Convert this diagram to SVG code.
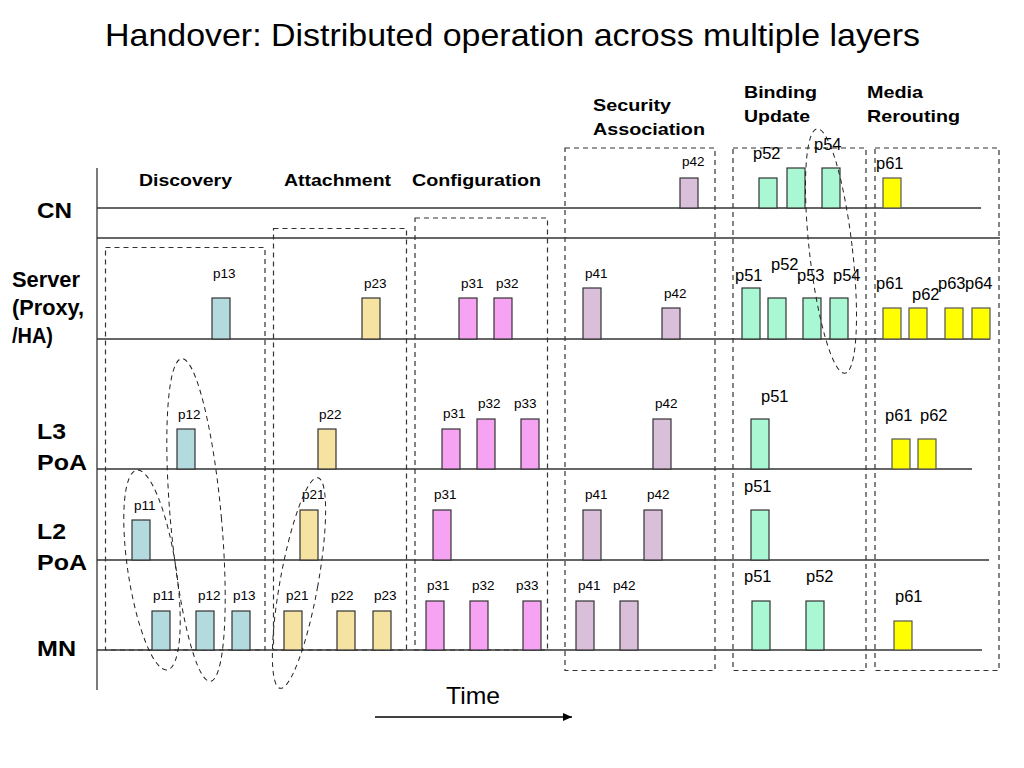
<svg xmlns="http://www.w3.org/2000/svg" width="1024" height="768" viewBox="0 0 1024 768">
<style>
text{font-family:"Liberation Sans",Arial,Helvetica,sans-serif;fill:#000}
.s{font-size:13.5px}
.l{font-size:16.5px}
.h{font-size:17px;font-weight:bold}
.lab{font-size:22px;font-weight:bold}
.row{stroke:#333;stroke-width:1.3;fill:none}
.box{fill:none;stroke:#333;stroke-width:1.2;stroke-dasharray:5 4}
.ell{fill:none;stroke:#222;stroke-width:1;stroke-dasharray:5 4}
.bar{stroke:#333;stroke-width:1.2}
.disc{fill:#B3DBDF}
.att{fill:#F6E3A2}
.conf{fill:#F5A3F2}
.sec{fill:#D9BFD9}
.bind{fill:#AAF7D3}
.media{fill:#FFFF00;stroke:#555}
</style>
<defs>
<marker id="arrow" markerUnits="userSpaceOnUse" markerWidth="10" markerHeight="10" refX="9" refY="5" orient="auto">
<path d="M0,1 L9,5 L0,9 z" fill="#000"/>
</marker>
</defs>
<rect width="1024" height="768" fill="#fff"/>
<text x="105" y="46" font-size="32" textLength="815" lengthAdjust="spacingAndGlyphs">Handover: Distributed operation across multiple layers</text>

<g id="axes">
<line class="row" x1="97" y1="168" x2="97" y2="690"/>
<line class="row" x1="97" y1="208" x2="981" y2="208"/>
<line class="row" x1="97" y1="238" x2="1000" y2="238"/>
<line class="row" x1="97" y1="339" x2="990" y2="339"/>
<line class="row" x1="97" y1="469" x2="972" y2="469"/>
<line class="row" x1="97" y1="560" x2="989" y2="560"/>
<line class="row" x1="97" y1="650" x2="982" y2="650"/>
</g>

<g id="layer-labels">
<text class="lab" x="37" y="218" textLength="35" lengthAdjust="spacingAndGlyphs">CN</text>
<text class="lab" x="12" y="287" textLength="68" lengthAdjust="spacingAndGlyphs">Server</text>
<text class="lab" x="12" y="315" textLength="72" lengthAdjust="spacingAndGlyphs">(Proxy,</text>
<text class="lab" x="12" y="343" textLength="41" lengthAdjust="spacingAndGlyphs">/HA)</text>
<text class="lab" x="37" y="439" textLength="29" lengthAdjust="spacingAndGlyphs">L3</text>
<text class="lab" x="37" y="470" textLength="50" lengthAdjust="spacingAndGlyphs">PoA</text>
<text class="lab" x="37" y="539" textLength="29" lengthAdjust="spacingAndGlyphs">L2</text>
<text class="lab" x="37" y="570" textLength="50" lengthAdjust="spacingAndGlyphs">PoA</text>
<text class="lab" x="37" y="656" textLength="39" lengthAdjust="spacingAndGlyphs">MN</text>
</g>

<g id="discovery">
<rect class="box" x="105.5" y="247.5" width="159.5" height="402.5"/>
<text class="h" x="139" y="186" textLength="93" lengthAdjust="spacingAndGlyphs">Discovery</text>
<rect class="bar disc" x="212" y="298" width="18" height="41"/><text class="s" x="213" y="278">p13</text>
<rect class="bar disc" x="177" y="429" width="18" height="40"/><text class="s" x="178" y="419">p12</text>
<rect class="bar disc" x="132" y="520" width="18" height="40"/><text class="s" x="134" y="510">p11</text>
<rect class="bar disc" x="152" y="611" width="18" height="39"/><text class="s" x="153" y="600">p11</text>
<rect class="bar disc" x="196" y="611" width="18" height="39"/><text class="s" x="198" y="600">p12</text>
<rect class="bar disc" x="232" y="611" width="18" height="39"/><text class="s" x="233" y="600">p13</text>
</g>

<g id="attachment">
<rect class="box" x="273.5" y="228.5" width="133" height="421.5"/>
<text class="h" x="284" y="186" textLength="107" lengthAdjust="spacingAndGlyphs">Attachment</text>
<rect class="bar att" x="362" y="298" width="18" height="41"/><text class="s" x="364" y="288">p23</text>
<rect class="bar att" x="318" y="429" width="18" height="40"/><text class="s" x="319" y="419">p22</text>
<rect class="bar att" x="300" y="510" width="18" height="50"/><text class="s" x="302" y="499">p21</text>
<rect class="bar att" x="284" y="611" width="18" height="39"/><text class="s" x="286" y="600">p21</text>
<rect class="bar att" x="337" y="611" width="18" height="39"/><text class="s" x="331" y="600">p22</text>
<rect class="bar att" x="373" y="611" width="18" height="39"/><text class="s" x="374" y="600">p23</text>
</g>

<g id="configuration">
<rect class="box" x="415" y="218" width="132.5" height="432"/>
<text class="h" x="412" y="186" textLength="129" lengthAdjust="spacingAndGlyphs">Configuration</text>
<rect class="bar conf" x="459" y="298" width="18" height="41"/><text class="s" x="461" y="288">p31</text>
<rect class="bar conf" x="494" y="298" width="18" height="41"/><text class="s" x="496" y="288">p32</text>
<rect class="bar conf" x="442" y="429" width="18" height="40"/><text class="s" x="443" y="418">p31</text>
<rect class="bar conf" x="477" y="419" width="18" height="50"/><text class="s" x="478" y="408">p32</text>
<rect class="bar conf" x="521" y="419" width="18" height="50"/><text class="s" x="514" y="408">p33</text>
<rect class="bar conf" x="433" y="510" width="18" height="50"/><text class="s" x="434" y="499">p31</text>
<rect class="bar conf" x="426" y="601" width="18" height="49"/><text class="s" x="427" y="590">p31</text>
<rect class="bar conf" x="470" y="601" width="18" height="49"/><text class="s" x="472" y="590">p32</text>
<rect class="bar conf" x="523" y="601" width="18" height="49"/><text class="s" x="516" y="590">p33</text>
</g>

<g id="security-association">
<rect class="box" x="565" y="148" width="150" height="522.5"/>
<text class="h" x="593" y="111" textLength="78" lengthAdjust="spacingAndGlyphs">Security</text>
<text class="h" x="593" y="135" textLength="112" lengthAdjust="spacingAndGlyphs">Association</text>
<rect class="bar sec" x="680" y="178" width="18" height="30"/><text class="s" x="682" y="166">p42</text>
<rect class="bar sec" x="583" y="288" width="18" height="51"/><text class="s" x="585" y="278">p41</text>
<rect class="bar sec" x="662" y="308" width="18" height="31"/><text class="s" x="664" y="298">p42</text>
<rect class="bar sec" x="653" y="419" width="18" height="50"/><text class="s" x="655" y="408">p42</text>
<rect class="bar sec" x="583" y="510" width="18" height="50"/><text class="s" x="585" y="499">p41</text>
<rect class="bar sec" x="644" y="510" width="18" height="50"/><text class="s" x="647" y="499">p42</text>
<rect class="bar sec" x="576" y="601" width="18" height="49"/><text class="s" x="578" y="590">p41</text>
<rect class="bar sec" x="620" y="601" width="18" height="49"/><text class="s" x="613" y="590">p42</text>
</g>

<g id="binding-update">
<rect class="box" x="733" y="148" width="133" height="522.5"/>
<text class="h" x="744" y="98" textLength="73" lengthAdjust="spacingAndGlyphs">Binding</text>
<text class="h" x="744" y="122" textLength="66" lengthAdjust="spacingAndGlyphs">Update</text>
<rect class="bar bind" x="759" y="178" width="18" height="30"/>
<rect class="bar bind" x="787" y="168" width="18" height="40"/>
<rect class="bar bind" x="822" y="168" width="18" height="40"/>
<text class="l" x="753" y="159">p52</text>
<text class="l" x="814" y="150">p54</text>
<rect class="bar bind" x="742" y="288" width="18" height="51"/><text class="l" x="735" y="281">p51</text>
<rect class="bar bind" x="768" y="298" width="18" height="41"/><text class="l" x="771" y="270">p52</text>
<rect class="bar bind" x="803" y="298" width="18" height="41"/><text class="l" x="797" y="281">p53</text>
<rect class="bar bind" x="830" y="298" width="18" height="41"/><text class="l" x="833" y="281">p54</text>
<rect class="bar bind" x="751" y="419" width="18" height="50"/><text class="l" x="761" y="402">p51</text>
<rect class="bar bind" x="751" y="510" width="18" height="50"/><text class="l" x="744" y="492">p51</text>
<rect class="bar bind" x="752" y="601" width="18" height="49"/><text class="l" x="744" y="582">p51</text>
<rect class="bar bind" x="806" y="601" width="18" height="49"/><text class="l" x="806" y="582">p52</text>
</g>

<g id="media-rerouting">
<rect class="box" x="875" y="148" width="124" height="522.5"/>
<text class="h" x="867" y="98" textLength="56" lengthAdjust="spacingAndGlyphs">Media</text>
<text class="h" x="867" y="122" textLength="93" lengthAdjust="spacingAndGlyphs">Rerouting</text>
<rect class="bar media" x="883" y="178" width="18" height="30"/><text class="l" x="876" y="169">p61</text>
<rect class="bar media" x="883" y="308" width="18" height="31"/><text class="l" x="876" y="289">p61</text>
<rect class="bar media" x="909" y="308" width="18" height="31"/><text class="l" x="912" y="300">p62</text>
<rect class="bar media" x="945" y="308" width="18" height="31"/><text class="l" x="938" y="289">p63</text>
<rect class="bar media" x="972" y="308" width="18" height="31"/><text class="l" x="965" y="289">p64</text>
<rect class="bar media" x="892" y="439" width="18" height="30"/><text class="l" x="885" y="421">p61</text>
<rect class="bar media" x="918" y="439" width="18" height="30"/><text class="l" x="920" y="421">p62</text>
<rect class="bar media" x="894" y="621" width="18" height="29"/><text class="l" x="895" y="602">p61</text>
</g>

<g id="groupings">
<ellipse class="ell" cx="0" cy="0" rx="24" ry="101" transform="translate(152,570) rotate(-8.7)"/>
<ellipse class="ell" cx="0" cy="0" rx="25.5" ry="162" transform="translate(196,520) rotate(-5.1)"/>
<ellipse class="ell" cx="0" cy="0" rx="19" ry="107" transform="translate(299,583) rotate(10.2)"/>
<ellipse class="ell" cx="0" cy="0" rx="21.5" ry="123" transform="translate(831,251) rotate(-6.5)"/>
</g>

<g id="connectors">
<line x1="375" y1="717" x2="572" y2="717" stroke="#000" stroke-width="1.5" marker-end="url(#arrow)"/>
</g>
<text x="446" y="704" font-size="24" textLength="54" lengthAdjust="spacingAndGlyphs">Time</text>
</svg>
